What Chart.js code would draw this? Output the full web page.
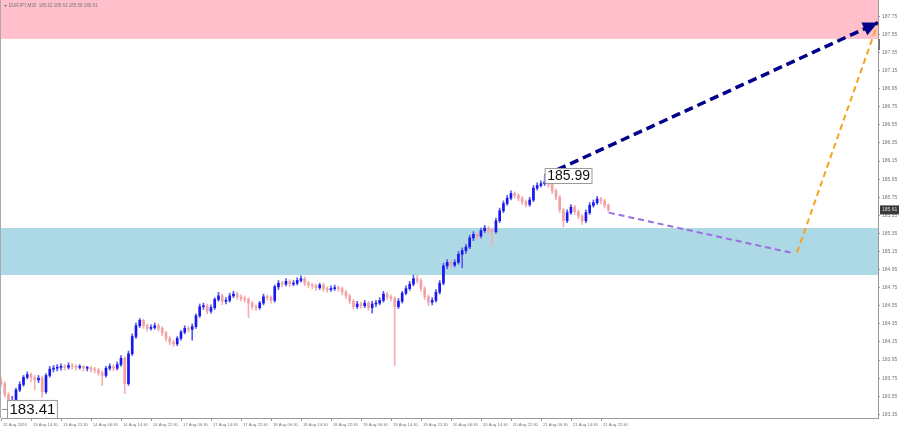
<!DOCTYPE html>
<html><head><meta charset="utf-8">
<script src="https://cdn.jsdelivr.net/npm/chart.js@4.4.1/dist/chart.umd.min.js"></script>
<style>html,body{margin:0;padding:0;background:#fff;overflow:hidden}#wrap{width:900px;height:430px;position:relative}canvas{display:block}</style>
</head><body><div id="wrap"><canvas id="c" width="900" height="430"></canvas></div>
<script>
// ---- data (EURJPY, one candle per hour, hour index from start) ----
const opens=[183.72,183.69,183.57,183.49,183.50,183.62,183.68,183.76,183.79,183.76,
183.73,183.75,183.60,183.78,183.85,183.86,183.87,183.88,183.87,183.89,
183.88,183.87,183.88,183.86,183.86,183.85,183.84,183.81,183.78,183.86,
183.88,183.86,183.90,183.97,183.69,184.02,184.21,184.33,184.39,184.33,
184.30,184.31,184.33,184.30,184.25,184.19,184.15,184.13,184.19,184.26,
184.30,184.29,184.32,184.44,184.54,184.55,184.49,184.53,184.62,184.66,
184.60,184.61,184.66,184.68,184.65,184.63,184.62,184.58,184.54,184.53,
184.58,184.65,184.64,184.61,184.76,184.80,184.79,184.82,184.79,184.80,
184.83,184.85,184.80,184.78,184.77,184.75,184.78,184.74,184.73,184.74,
184.75,184.74,184.70,184.66,184.60,184.54,184.57,184.55,184.58,184.53,
184.57,184.58,184.61,184.68,184.65,184.63,184.54,184.60,184.69,184.74,
184.79,184.85,184.83,184.74,184.65,184.59,184.61,184.70,184.80,184.99,
185.03,185.00,185.03,185.12,185.16,185.20,185.30,185.34,185.32,185.38,
185.41,185.38,185.37,185.49,185.60,185.68,185.74,185.79,185.77,185.74,
185.70,185.67,185.72,185.85,185.88,185.90,185.92,185.89,185.82,185.75,
185.61,185.49,185.58,185.64,185.59,185.54,185.49,185.58,185.66,185.69,
185.73,185.71,185.66];
const closes=[183.69,183.57,183.49,183.50,183.62,183.68,183.76,183.79,183.76,183.73,
183.75,183.60,183.78,183.85,183.86,183.87,183.88,183.87,183.89,183.88,
183.87,183.88,183.86,183.86,183.85,183.84,183.81,183.78,183.86,183.88,
183.86,183.90,183.97,183.69,184.02,184.21,184.33,184.39,184.33,184.30,
184.31,184.33,184.30,184.25,184.19,184.15,184.13,184.19,184.26,184.30,
184.29,184.32,184.44,184.54,184.55,184.49,184.53,184.62,184.66,184.60,
184.61,184.66,184.68,184.65,184.63,184.62,184.58,184.54,184.53,184.58,
184.65,184.64,184.61,184.76,184.80,184.79,184.82,184.79,184.80,184.83,
184.85,184.80,184.78,184.77,184.75,184.78,184.74,184.73,184.74,184.75,
184.74,184.70,184.66,184.60,184.54,184.57,184.55,184.58,184.53,184.57,
184.58,184.61,184.68,184.65,184.63,184.54,184.60,184.69,184.74,184.79,
184.85,184.83,184.74,184.65,184.59,184.61,184.70,184.80,184.99,185.03,
185.00,185.03,185.12,185.16,185.20,185.30,185.34,185.32,185.38,185.41,
185.38,185.37,185.49,185.60,185.68,185.74,185.79,185.77,185.74,185.70,
185.67,185.72,185.85,185.88,185.90,185.92,185.89,185.82,185.75,185.61,
185.49,185.58,185.64,185.59,185.54,185.49,185.58,185.66,185.69,185.73,
185.71,185.66,185.61];
const highs=[183.76,183.71,183.59,183.55,183.64,183.71,183.78,183.82,183.81,183.78,
183.78,183.77,183.80,183.88,183.89,183.90,183.91,183.90,183.92,183.91,
183.90,183.90,183.89,183.88,183.88,183.87,183.86,183.83,183.88,183.91,
183.90,183.93,184.00,183.99,184.05,184.24,184.36,184.41,184.40,184.35,
184.34,184.36,184.35,184.32,184.27,184.21,184.17,184.21,184.28,184.33,
184.32,184.35,184.46,184.57,184.58,184.57,184.56,184.64,184.70,184.68,
184.64,184.69,184.71,184.70,184.67,184.66,184.64,184.60,184.56,184.60,
184.68,184.67,184.66,184.78,184.83,184.82,184.85,184.84,184.83,184.86,
184.88,184.87,184.82,184.80,184.79,184.80,184.80,184.76,184.77,184.78,
184.77,184.76,184.72,184.68,184.62,184.60,184.59,184.61,184.60,184.60,
184.61,184.64,184.71,184.70,184.67,184.65,184.63,184.71,184.77,184.82,
184.89,184.89,184.85,184.76,184.67,184.64,184.73,184.83,185.02,185.06,
185.05,185.06,185.15,185.19,185.23,185.33,185.37,185.36,185.41,185.44,
185.43,185.41,185.52,185.63,185.71,185.77,185.82,185.81,185.79,185.76,
185.72,185.75,185.88,185.91,185.93,185.99,185.95,185.91,185.84,185.77,
185.63,185.61,185.67,185.66,185.61,185.56,185.61,185.69,185.72,185.76,
185.75,185.73,185.68];
const lows=[183.66,183.54,183.41,183.44,183.48,183.60,183.66,183.74,183.71,183.62,
183.70,183.54,183.58,183.76,183.82,183.83,183.84,183.84,183.85,183.85,
183.84,183.85,183.83,183.83,183.82,183.81,183.78,183.67,183.76,183.84,
183.83,183.84,183.88,183.58,183.67,184.00,184.19,184.31,184.30,184.27,
184.28,184.29,184.27,184.22,184.16,184.12,184.10,184.11,184.17,184.24,
184.26,184.17,184.30,184.42,184.51,184.46,184.47,184.51,184.60,184.56,
184.57,184.59,184.64,184.62,184.60,184.59,184.42,184.51,184.50,184.51,
184.56,184.61,184.58,184.59,184.73,184.76,184.77,184.76,184.77,184.78,
184.81,184.77,184.75,184.74,184.72,184.73,184.71,184.70,184.71,184.72,
184.71,184.67,184.63,184.57,184.51,184.52,184.52,184.53,184.50,184.47,
184.54,184.56,184.59,184.62,184.60,183.89,184.52,184.58,184.67,184.72,
184.77,184.80,184.71,184.62,184.55,184.56,184.59,184.68,184.78,184.96,
184.97,184.98,185.01,184.97,185.13,185.18,185.27,185.29,185.30,185.36,
185.35,185.22,185.35,185.47,185.58,185.66,185.72,185.74,185.71,185.67,
185.64,185.65,185.70,185.83,185.86,185.88,185.86,185.79,185.72,185.58,
185.42,185.47,185.56,185.56,185.51,185.45,185.47,185.56,185.64,185.67,
185.68,185.63,185.59];

const timeLabels=["12 Aug 2026","13 Aug 14:30","13 Aug 22:30","14 Aug 06:30","14 Aug 14:30","14 Aug 22:30",
"17 Aug 06:30","17 Aug 14:30","17 Aug 22:30","18 Aug 06:30","18 Aug 14:30","18 Aug 22:30",
"19 Aug 06:30","19 Aug 14:30","19 Aug 22:30","20 Aug 06:30","20 Aug 14:30","20 Aug 22:30",
"21 Aug 06:30","21 Aug 14:30","21 Aug 22:30"];
const labelHours=[0,8,16,24,32,40,48,56,64,72,80,88,96,104,112,120,128,136,144,152,160];
const yTicks=[183.35,183.55,183.75,183.95,184.15,184.35,184.55,184.75,184.95,185.15,185.35,185.55,
185.75,185.95,186.15,186.35,186.55,186.75,186.95,187.15,187.35,187.55,187.75];

// forecast paths (hour, price)
const targetX=[145,233.9], targetY=[185.99,187.68];
const correctionX=[162.1,211.5], correctionY=[185.58,185.13];
const finalX=[212.3,233.9], finalY=[185.14,187.68];
// zones
const resistanceZone=[187.50,188.2];
const supportZone=[184.89,185.41];
// labels
const highMark={hour:145,price:185.99,text:"185.99"};
const lowMark={hour:1.6,price:183.41,text:"183.41"};
const lastPrice=185.61;
const title="EURJPY,M30  185.62 185.63 185.58 185.61";

const BLUE='#1818ee', RED='#f2a2a2';
const idx=closes.map((_,i)=>i);
const candleColor=idx.map(i=>closes[i]>=opens[i]?BLUE:RED);
const wickColor=idx.map(i=>closes[i]>=opens[i]?'#5a5af0':'#f4b0b0');
const pts=(xs,ys)=>xs.map((x,i)=>({x,y:ys[i]}));

const overlay={
  id:'overlay',
  beforeDatasetsDraw(chart){
    const {ctx,chartArea:a,scales:{y}}=chart;
    ctx.save();
    ctx.fillStyle='#ffc0cb';
    let t=Math.max(0,y.getPixelForValue(resistanceZone[1])), b=y.getPixelForValue(resistanceZone[0]);
    ctx.fillRect(a.left-1,t,a.right-a.left+1,b-t);
    ctx.fillStyle='#add8e6';
    t=y.getPixelForValue(supportZone[1]); b=y.getPixelForValue(supportZone[0]);
    ctx.fillRect(a.left-1,t,a.right-a.left+1,b-t);
    ctx.restore();
  },
  afterDatasetsDraw(chart){
    const {ctx,chartArea:a,scales:{x,y}}=chart;
    ctx.save();
    // arrow head
    const x1=x.getPixelForValue(targetX[0]),y1=y.getPixelForValue(targetY[0]);
    const x2=x.getPixelForValue(targetX[1]),y2=y.getPixelForValue(targetY[1]);
    const ang=Math.atan2(y2-y1,x2-x1), L=15, W=7;
    ctx.fillStyle='#00008b';
    ctx.beginPath();
    ctx.moveTo(x2,y2);
    ctx.lineTo(x2-L*Math.cos(ang)+W*Math.sin(ang), y2-L*Math.sin(ang)-W*Math.cos(ang));
    ctx.lineTo(x2-L*Math.cos(ang)-W*Math.sin(ang), y2-L*Math.sin(ang)+W*Math.cos(ang));
    ctx.closePath(); ctx.fill();
    // price marks
    const mark=(m,h,fs)=>{
      const px=x.getPixelForValue(m.hour), py=y.getPixelForValue(m.price);
      ctx.font=fs+'px Arial';
      const w=ctx.measureText(m.text).width+4;
      ctx.fillStyle='#fff'; ctx.fillRect(px,py-h/2,w,h);
      ctx.strokeStyle='#999'; ctx.lineWidth=1; ctx.strokeRect(px+0.5,py-h/2+0.5,w,h);
      ctx.fillStyle='#111'; ctx.textBaseline='middle'; ctx.textAlign='left';
      ctx.fillText(m.text,px+2.5,py+1);
    };
    mark(highMark,15,14);
    mark(lowMark,18,15);
    const lx=x.getPixelForValue(lowMark.hour), ly=y.getPixelForValue(lowMark.price);
    ctx.strokeStyle='#888'; ctx.beginPath(); ctx.moveTo(lx-5,ly+0.5); ctx.lineTo(lx,ly+0.5); ctx.stroke();
    ctx.restore();
  },
  afterDraw(chart){
    const {ctx,chartArea:a,scales:{x,y}}=chart;
    ctx.save();
    // title
    ctx.fillStyle='#777'; ctx.font='4.5px Arial'; ctx.textBaseline='middle'; ctx.textAlign='left';
    ctx.beginPath(); ctx.moveTo(4,5); ctx.lineTo(7,5); ctx.lineTo(5.5,7); ctx.closePath(); ctx.fill();
    ctx.fillText(title,9,6);
    // time axis labels
    ctx.strokeStyle='#999'; ctx.lineWidth=1; ctx.font='4.2px Arial';
    labelHours.forEach((h,k)=>{
      const px=Math.round(x.getPixelForValue(h))+0.5;
      ctx.beginPath(); ctx.moveTo(px,a.bottom); ctx.lineTo(px,a.bottom+3); ctx.stroke();
      ctx.fillText(timeLabels[k],px+1.5,a.bottom+6.5);
    });
    // borders
    ctx.strokeStyle='#aaa';
    ctx.beginPath(); ctx.moveTo(0.5,0); ctx.lineTo(0.5,a.bottom); ctx.stroke();
    // shift marker
    ctx.fillStyle='#777'; ctx.fillRect(a.right,39,2,11);
    // last price box
    const py=y.getPixelForValue(lastPrice);
    ctx.fillStyle='#3a3a3a'; ctx.fillRect(a.right+2,py-4.5,19,9);
    ctx.fillStyle='#ddd'; ctx.font='5px Arial'; ctx.fillText(lastPrice.toFixed(2),a.right+4,py);
    ctx.restore();
  }
};

new Chart(document.getElementById('c'),{
  type:'bar',
  data:{datasets:[
    {type:'line',data:pts(targetX,targetY),borderColor:'#00008b',borderWidth:3.5,borderDash:[9,5],pointRadius:0,order:0,clip:false},
    {type:'line',data:pts(correctionX,correctionY),borderColor:'#9b6fe0',borderWidth:2,borderDash:[6,4],pointRadius:0,order:0},
    {type:'line',data:pts(finalX,finalY),borderColor:'#f5a21e',borderWidth:2,borderDash:[6,4],pointRadius:0,order:0,clip:false},
    {type:'bar',data:idx.map(i=>({x:i,y:[opens[i],closes[i]]})),backgroundColor:candleColor,barThickness:2,minBarLength:1,grouped:false,order:1},
    {type:'bar',data:idx.map(i=>({x:i,y:[lows[i],highs[i]]})),backgroundColor:wickColor,barThickness:1,grouped:false,order:2}
  ]},
  options:{
    responsive:false,animation:false,devicePixelRatio:1,
    layout:{padding:{left:1,top:0,right:0,bottom:0}},
    plugins:{legend:{display:false},tooltip:{enabled:false}},
    scales:{
      x:{type:'linear',min:0,max:233.9,offset:false,grid:{display:false},ticks:{display:false},
         border:{display:true,color:'#999'},afterFit(s){s.height=12;s.paddingLeft=0;s.paddingRight=0;}},
      y:{position:'right',min:183.31,max:187.93,
         afterBuildTicks(s){s.ticks=yTicks.map(v=>({value:v}));},
         ticks:{font:{size:5,family:'Arial'},color:'#777',padding:2,callback:v=>Number(v).toFixed(2)},
         grid:{drawOnChartArea:false,tickLength:2,color:'#999'},border:{color:'#999'},
         afterFit(s){s.width=22;s.paddingTop=0;s.paddingBottom=0;}}
    }
  },
  plugins:[overlay]
});
</script></body></html>
